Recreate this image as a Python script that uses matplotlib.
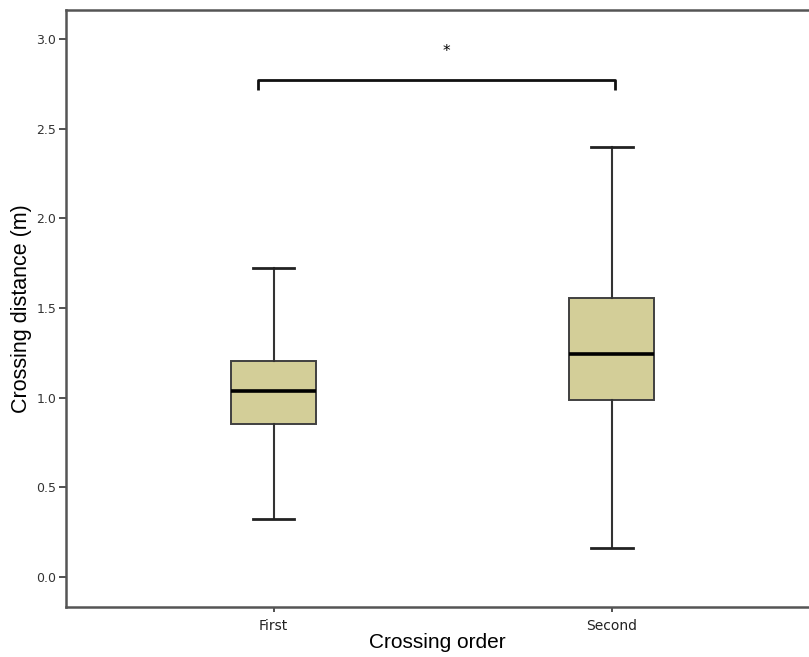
import matplotlib
matplotlib.use("Agg")
import matplotlib.pyplot as plt

categories = ["First", "Second"]
whisker_low = [0.322, 0.163]
q1 = [0.851, 0.985]
median = [1.039, 1.242]
q3 = [1.204, 1.554]
whisker_high = [1.725, 2.399]
yticks = [0.0, 0.5, 1.0, 1.5, 2.0, 2.5, 3.0]
sig_label = "*"

fig = plt.figure(figsize=(8.09, 6.57), dpi=100)
ax = fig.add_axes([66/809, 50/657, 1 - 66/809, (607 - 9.5)/657])

stats = []
for i, c in enumerate(categories):
    stats.append(dict(label=c, whislo=whisker_low[i], q1=q1[i], med=median[i],
                      q3=q3[i], whishi=whisker_high[i], fliers=[]))

positions = list(range(1, len(categories) + 1))
ax.bxp(stats, positions=positions, widths=0.251, capwidths=0.124,
       patch_artist=True, showfliers=False,
       boxprops=dict(facecolor="#D3CE98", edgecolor="#404040", linewidth=1.4),
       whiskerprops=dict(color="#333333", linewidth=1.5),
       capprops=dict(color="#222222", linewidth=2.0),
       medianprops=dict(color="#000000", linewidth=2.6))

ax.set_xlim(0.3867, 2.5826)
ax.set_ylim(-0.169, 3.166)
ax.set_yticks(yticks)
ax.set_yticklabels([f"{v:.1f}" for v in yticks], fontsize=9, color="#333333")
ax.set_xticks(positions)
ax.set_xticklabels(categories, fontsize=10, color="#222222")
ax.tick_params(axis="y", length=5, width=1.2, color="#333333", pad=2)
ax.tick_params(axis="x", length=3.5, width=1.2, color="#333333", pad=5)

for s in ["left", "bottom", "top"]:
    ax.spines[s].set_color("#555555")
    ax.spines[s].set_linewidth(1.8)
ax.spines["right"].set_visible(False)

ax.set_xlabel("Crossing order", fontsize=15, family="Liberation Sans", labelpad=0)
ax.set_ylabel("Crossing distance (m)", fontsize=15.5, family="Liberation Sans", labelpad=3)

# significance bracket
bx = [0.954, 0.954, 2.009, 2.009]
by = [2.717, 2.773, 2.773, 2.717]
ax.plot(bx, by, color="#111111", linewidth=2.0, solid_capstyle="butt")
ax.text(1.510, 2.933, sig_label, ha="center", va="center", fontsize=11)

fig.savefig("out.png", dpi=100)
